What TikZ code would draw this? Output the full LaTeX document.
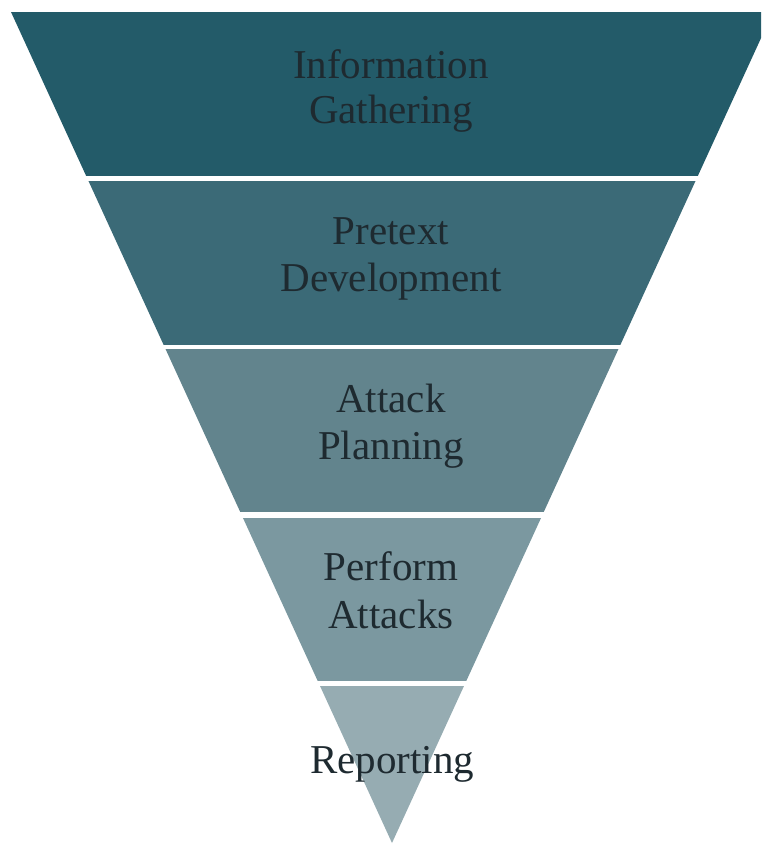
\documentclass[tikz,border=0pt]{standalone}
\usepackage{fontspec}
\setmainfont{Liberation Serif}
\definecolor{bandA}{HTML}{235B69}
\definecolor{bandB}{HTML}{3B6A77}
\definecolor{bandC}{HTML}{62848D}
\definecolor{bandD}{HTML}{7B98A0}
\definecolor{bandE}{HTML}{96ACB2}
\definecolor{labelcol}{HTML}{1E2A30}
\tikzset{
  lbl/.style={anchor=base, inner sep=0pt, text=labelcol, font=\fontsize{41}{46}\selectfont}
}
\begin{document}
\begin{tikzpicture}[x=1pt,y=-1pt]
\useasboundingbox (0,0) rectangle (761,844);
\begin{scope}
  \clip (0,0) rectangle (761,844);
  \clip (11,12) -- (773,12) -- (392,843) -- cycle;
  \fill[bandA] (0,12) rectangle (800,176);
  \fill[bandB] (0,181) rectangle (800,345);
  \fill[bandC] (0,349) rectangle (800,512);
  \fill[bandD] (0,518) rectangle (800,681);
  \fill[bandE] (0,686) rectangle (800,850);
\end{scope}
\node[lbl] (infoA) at (391,78) {Information};
\node[lbl] (infoB) at (391,123) {Gathering};
\node[lbl] (pretA) at (391,244) {Pretext};
\node[lbl] (pretB) at (391,291) {Development};
\node[lbl] (planA) at (391,412) {Attack};
\node[lbl] (planB) at (391,459) {Planning};
\node[lbl] (perfA) at (391,580) {Perform};
\node[lbl] (perfB) at (391,628) {Attacks};
\node[lbl] (rep) at (392,773) {Reporting};
\end{tikzpicture}
\end{document}
